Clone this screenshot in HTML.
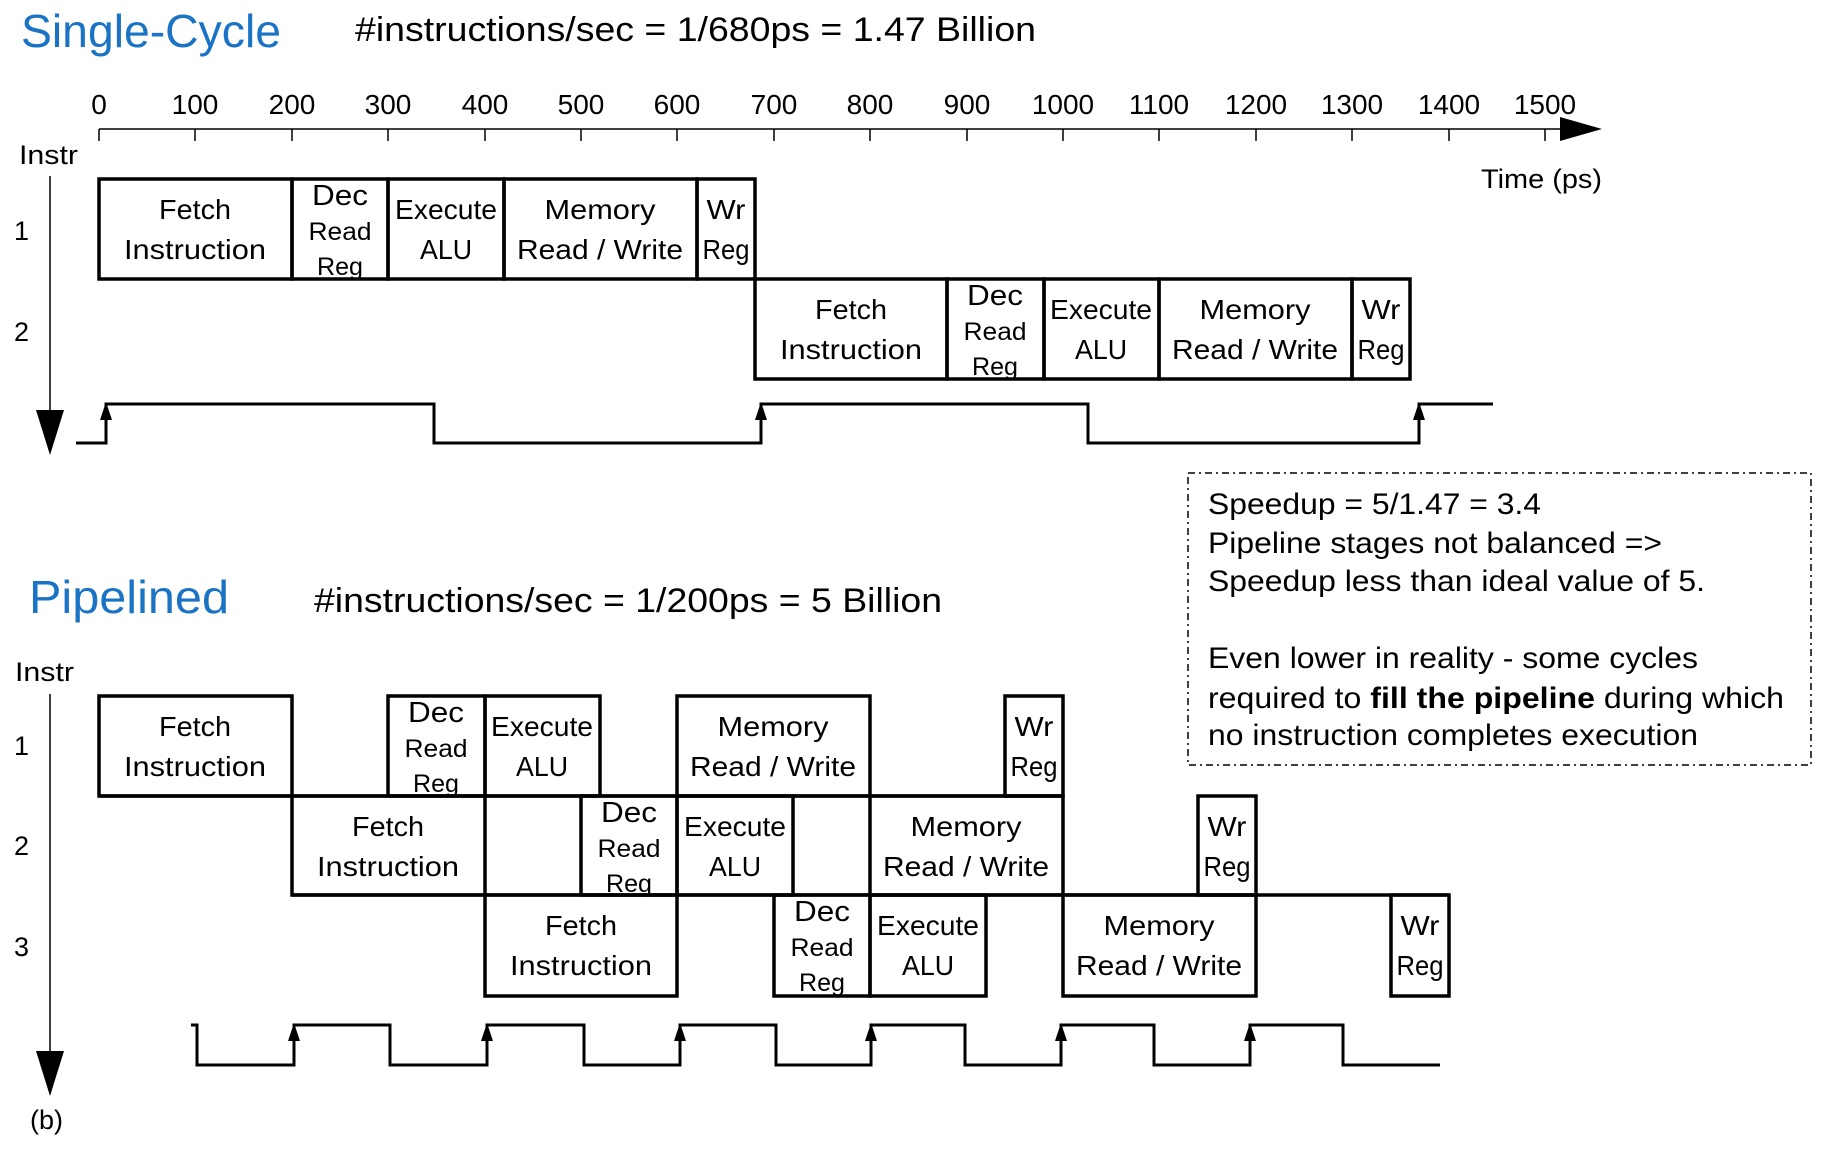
<!DOCTYPE html>
<html><head><meta charset="utf-8"><style>
html,body{margin:0;padding:0;background:#fff;}
svg{display:block;}
text{font-family:"Liberation Sans",sans-serif;fill:#000;}
.b{font-size:28px;}
.d{font-size:29px;}
.s{font-size:25px;}
</style></head><body>
<svg width="1829" height="1154" viewBox="0 0 1829 1154" xmlns="http://www.w3.org/2000/svg">
<!-- titles -->
<text x="21" y="47" style="font-size:46px;fill:#1a73c4" textLength="260" lengthAdjust="spacingAndGlyphs">Single-Cycle</text>
<text x="355" y="41" style="font-size:34px" textLength="681" lengthAdjust="spacingAndGlyphs">#instructions/sec = 1/680ps = 1.47 Billion</text>
<text x="29" y="613" style="font-size:46px;fill:#1a73c4" textLength="200" lengthAdjust="spacingAndGlyphs">Pipelined</text>
<text x="314" y="612" style="font-size:34px" textLength="628" lengthAdjust="spacingAndGlyphs">#instructions/sec = 1/200ps = 5 Billion</text>

<!-- axis -->
<g stroke="#000" stroke-width="1.5">
<line x1="99" y1="129" x2="1565" y2="129"/>
<line x1="99" y1="129" x2="99" y2="141"/><line x1="195" y1="129" x2="195" y2="141"/><line x1="292" y1="129" x2="292" y2="141"/><line x1="388" y1="129" x2="388" y2="141"/><line x1="485" y1="129" x2="485" y2="141"/><line x1="581" y1="129" x2="581" y2="141"/><line x1="677" y1="129" x2="677" y2="141"/><line x1="774" y1="129" x2="774" y2="141"/><line x1="870" y1="129" x2="870" y2="141"/><line x1="967" y1="129" x2="967" y2="141"/><line x1="1063" y1="129" x2="1063" y2="141"/><line x1="1159" y1="129" x2="1159" y2="141"/><line x1="1256" y1="129" x2="1256" y2="141"/><line x1="1352" y1="129" x2="1352" y2="141"/><line x1="1449" y1="129" x2="1449" y2="141"/><line x1="1545" y1="129" x2="1545" y2="141"/>
<line x1="50" y1="176" x2="50" y2="420"/>
</g>
<polygon points="1560,117 1602,129 1560,141" fill="#000"/>
<polygon points="36,410 64,410 50,455" fill="#000"/>
<g class="b" text-anchor="middle">
<text x="99" y="114">0</text><text x="195" y="114">100</text><text x="292" y="114">200</text><text x="388" y="114">300</text><text x="485" y="114">400</text><text x="581" y="114">500</text><text x="677" y="114">600</text><text x="774" y="114">700</text><text x="870" y="114">800</text><text x="967" y="114">900</text><text x="1063" y="114">1000</text><text x="1159" y="114">1100</text><text x="1256" y="114">1200</text><text x="1352" y="114">1300</text><text x="1449" y="114">1400</text><text x="1545" y="114">1500</text>
</g>
<g style="font-size:27px">
<text x="19" y="164" textLength="59" lengthAdjust="spacingAndGlyphs">Instr</text>
<text x="1481" y="188" textLength="121" lengthAdjust="spacingAndGlyphs">Time (ps)</text>
<text x="14" y="240">1</text><text x="14" y="341">2</text>
</g>

<!-- single cycle boxes -->
<g fill="none" stroke="#000" stroke-width="3.5">
<rect x="99" y="179" width="193" height="100"/><rect x="292" y="179" width="96" height="100"/><rect x="388" y="179" width="116" height="100"/><rect x="504" y="179" width="193" height="100"/><rect x="697" y="179" width="58" height="100"/>
<rect x="755" y="279" width="192" height="100"/><rect x="947" y="279" width="97" height="100"/><rect x="1044" y="279" width="115" height="100"/><rect x="1159" y="279" width="193" height="100"/><rect x="1352" y="279" width="58" height="100"/>
</g>
<g class="b" text-anchor="middle">
<text x="195" y="219" textLength="72" lengthAdjust="spacingAndGlyphs">Fetch</text><text x="195" y="259" textLength="142" lengthAdjust="spacingAndGlyphs">Instruction</text>
<text x="446" y="219" textLength="102" lengthAdjust="spacingAndGlyphs">Execute</text><text x="446" y="259" textLength="52" lengthAdjust="spacingAndGlyphs">ALU</text>
<text x="600" y="219" textLength="111" lengthAdjust="spacingAndGlyphs">Memory</text><text x="600" y="259" textLength="166" lengthAdjust="spacingAndGlyphs">Read / Write</text>
<text x="726" y="219" textLength="39" lengthAdjust="spacingAndGlyphs">Wr</text><text x="726" y="259" textLength="47" lengthAdjust="spacingAndGlyphs">Reg</text>
<text x="851" y="319" textLength="72" lengthAdjust="spacingAndGlyphs">Fetch</text><text x="851" y="359" textLength="142" lengthAdjust="spacingAndGlyphs">Instruction</text>
<text x="1101" y="319" textLength="102" lengthAdjust="spacingAndGlyphs">Execute</text><text x="1101" y="359" textLength="52" lengthAdjust="spacingAndGlyphs">ALU</text>
<text x="1255" y="319" textLength="111" lengthAdjust="spacingAndGlyphs">Memory</text><text x="1255" y="359" textLength="166" lengthAdjust="spacingAndGlyphs">Read / Write</text>
<text x="1381" y="319" textLength="39" lengthAdjust="spacingAndGlyphs">Wr</text><text x="1381" y="359" textLength="47" lengthAdjust="spacingAndGlyphs">Reg</text>
</g>
<g text-anchor="middle">
<text class="d" x="340" y="205" textLength="56" lengthAdjust="spacingAndGlyphs">Dec</text><text class="s" x="340" y="240" textLength="63" lengthAdjust="spacingAndGlyphs">Read</text><text class="s" x="340" y="275" textLength="46" lengthAdjust="spacingAndGlyphs">Reg</text>
<text class="d" x="995" y="305" textLength="56" lengthAdjust="spacingAndGlyphs">Dec</text><text class="s" x="995" y="340" textLength="63" lengthAdjust="spacingAndGlyphs">Read</text><text class="s" x="995" y="375" textLength="46" lengthAdjust="spacingAndGlyphs">Reg</text>
</g>
<polyline points="76,443 106,443 106,404 434,404 434,443 761,443 761,404 1088,404 1088,443 1419,443 1419,404 1493,404" fill="none" stroke="#000" stroke-width="3"/>
<g fill="#000">
<polygon points="106,402 100,420 112,420"/><polygon points="761,402 755,420 767,420"/><polygon points="1419,402 1413,420 1425,420"/>
</g>

<!-- pipelined section -->
<g transform="translate(0,-4)">
<line x1="50" y1="698" x2="50" y2="1060" stroke="#000" stroke-width="1.5"/>
<polygon points="36,1055 64,1055 50,1100" fill="#000"/>
<g style="font-size:27px">
<text x="15" y="685" textLength="59" lengthAdjust="spacingAndGlyphs">Instr</text>
<text x="30" y="1133">(b)</text>
<text x="14" y="759">1</text><text x="14" y="859">2</text><text x="14" y="960">3</text>
</g>
<g fill="none" stroke="#000" stroke-width="3.5">
<rect x="99" y="700" width="193" height="100"/><rect x="388" y="700" width="97" height="100"/><rect x="485" y="700" width="115" height="100"/><rect x="677" y="700" width="193" height="100"/><rect x="1005" y="700" width="58" height="100"/>
<rect x="292" y="800" width="193" height="99"/><rect x="581" y="800" width="96" height="99"/><rect x="677" y="800" width="116" height="99"/><rect x="870" y="800" width="193" height="99"/><rect x="1198" y="800" width="58" height="99"/>
<rect x="485" y="899" width="192" height="101"/><rect x="774" y="899" width="96" height="101"/><rect x="870" y="899" width="116" height="101"/><rect x="1063" y="899" width="193" height="101"/><rect x="1391" y="899" width="58" height="101"/>
<line x1="99" y1="800" x2="1063" y2="800"/>
<line x1="292" y1="899" x2="1449" y2="899"/>
</g>
<g class="b" text-anchor="middle">
<text x="195" y="740" textLength="72" lengthAdjust="spacingAndGlyphs">Fetch</text><text x="195" y="780" textLength="142" lengthAdjust="spacingAndGlyphs">Instruction</text>
<text x="542" y="740" textLength="102" lengthAdjust="spacingAndGlyphs">Execute</text><text x="542" y="780" textLength="52" lengthAdjust="spacingAndGlyphs">ALU</text>
<text x="773" y="740" textLength="111" lengthAdjust="spacingAndGlyphs">Memory</text><text x="773" y="780" textLength="166" lengthAdjust="spacingAndGlyphs">Read / Write</text>
<text x="1034" y="740" textLength="39" lengthAdjust="spacingAndGlyphs">Wr</text><text x="1034" y="780" textLength="47" lengthAdjust="spacingAndGlyphs">Reg</text>
<text x="388" y="840" textLength="72" lengthAdjust="spacingAndGlyphs">Fetch</text><text x="388" y="880" textLength="142" lengthAdjust="spacingAndGlyphs">Instruction</text>
<text x="735" y="840" textLength="102" lengthAdjust="spacingAndGlyphs">Execute</text><text x="735" y="880" textLength="52" lengthAdjust="spacingAndGlyphs">ALU</text>
<text x="966" y="840" textLength="111" lengthAdjust="spacingAndGlyphs">Memory</text><text x="966" y="880" textLength="166" lengthAdjust="spacingAndGlyphs">Read / Write</text>
<text x="1227" y="840" textLength="39" lengthAdjust="spacingAndGlyphs">Wr</text><text x="1227" y="880" textLength="47" lengthAdjust="spacingAndGlyphs">Reg</text>
<text x="581" y="939" textLength="72" lengthAdjust="spacingAndGlyphs">Fetch</text><text x="581" y="979" textLength="142" lengthAdjust="spacingAndGlyphs">Instruction</text>
<text x="928" y="939" textLength="102" lengthAdjust="spacingAndGlyphs">Execute</text><text x="928" y="979" textLength="52" lengthAdjust="spacingAndGlyphs">ALU</text>
<text x="1159" y="939" textLength="111" lengthAdjust="spacingAndGlyphs">Memory</text><text x="1159" y="979" textLength="166" lengthAdjust="spacingAndGlyphs">Read / Write</text>
<text x="1420" y="939" textLength="39" lengthAdjust="spacingAndGlyphs">Wr</text><text x="1420" y="979" textLength="47" lengthAdjust="spacingAndGlyphs">Reg</text>
</g>
<g text-anchor="middle">
<text class="d" x="436" y="726" textLength="56" lengthAdjust="spacingAndGlyphs">Dec</text><text class="s" x="436" y="761" textLength="63" lengthAdjust="spacingAndGlyphs">Read</text><text class="s" x="436" y="796" textLength="46" lengthAdjust="spacingAndGlyphs">Reg</text>
<text class="d" x="629" y="826" textLength="56" lengthAdjust="spacingAndGlyphs">Dec</text><text class="s" x="629" y="861" textLength="63" lengthAdjust="spacingAndGlyphs">Read</text><text class="s" x="629" y="896" textLength="46" lengthAdjust="spacingAndGlyphs">Reg</text>
<text class="d" x="822" y="925" textLength="56" lengthAdjust="spacingAndGlyphs">Dec</text><text class="s" x="822" y="960" textLength="63" lengthAdjust="spacingAndGlyphs">Read</text><text class="s" x="822" y="995" textLength="46" lengthAdjust="spacingAndGlyphs">Reg</text>
</g>
<polyline points="191,1029 197,1029 197,1069 294,1069 294,1029 390,1029 390,1069 487,1069 487,1029 584,1029 584,1069 680,1069 680,1029 776,1029 776,1069 871,1069 871,1029 965,1029 965,1069 1061,1069 1061,1029 1154,1029 1154,1069 1250,1069 1250,1029 1343,1029 1343,1069 1440,1069" fill="none" stroke="#000" stroke-width="3"/>
<g fill="#000">
<polygon points="294,1027 288,1045 300,1045"/><polygon points="487,1027 481,1045 493,1045"/><polygon points="680,1027 674,1045 686,1045"/><polygon points="871,1027 865,1045 877,1045"/><polygon points="1061,1027 1055,1045 1067,1045"/><polygon points="1250,1027 1244,1045 1256,1045"/>
</g>
</g>

<!-- speedup box -->
<rect x="1188" y="473" width="623" height="292" fill="none" stroke="#000" stroke-width="1.5" stroke-dasharray="7,4,2,4"/>
<g style="font-size:30px">
<text x="1208" y="514" textLength="333" lengthAdjust="spacingAndGlyphs">Speedup = 5/1.47 = 3.4</text>
<text x="1208" y="553" textLength="454" lengthAdjust="spacingAndGlyphs">Pipeline stages not balanced =&gt;</text>
<text x="1208" y="591" textLength="497" lengthAdjust="spacingAndGlyphs">Speedup less than ideal value of 5.</text>
<text x="1208" y="668" textLength="490" lengthAdjust="spacingAndGlyphs">Even lower in reality - some cycles</text>
<text x="1208" y="708" textLength="576" lengthAdjust="spacingAndGlyphs">required to <tspan font-weight="bold">fill the pipeline</tspan> during which</text>
<text x="1208" y="745" textLength="490" lengthAdjust="spacingAndGlyphs">no instruction completes execution</text>
</g>
</svg>
</body></html>
